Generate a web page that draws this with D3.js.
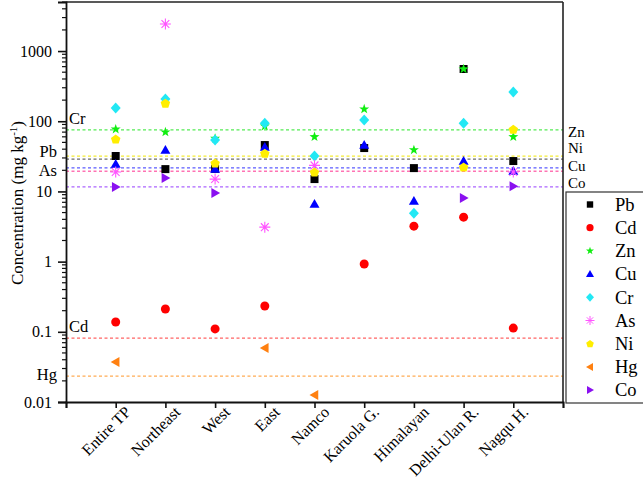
<!DOCTYPE html>
<html>
<head>
<meta charset="utf-8">
<script src="https://cdn.jsdelivr.net/npm/d3@7"></script>
<style>
  body { margin: 0; background: #fff; }
  svg { font-family: "Liberation Serif", "Times New Roman", serif; }
</style>
</head>
<body>
<svg id="chart" width="643" height="480"></svg>
<script>
const regions = ["Entire TP", "Northeast", "West", "East", "Namco", "Karuola G.", "Himalayan", "Delhi-Ulan R.", "Nagqu H."];

// concentrations (mg/kg), null = not reported
const pb = [32, 20.8, 21, 45.8, 15.0, 41.5, 21.5, 555, 27.1];
const cd = [0.138, 0.211, 0.110, 0.233, null, 0.925, 3.2, 4.3, 0.113];
const zn = [77, 70, 57, 85, 60, 149, 39, 555, 60];
const cu = [24.5, 39, 20.8, 43, 6.6, 45.8, 7.3, 27.1, 19.6];
const cr = [154, 207, 54, 94, 32, 104, 4.9, 94, 261];
const as = [18.9, 2430, 15.0, 3.1, 23.5, null, null, null, 18.9];
const ni = [56, 181, 25.4, 35, 18.9, null, null, 22.3, 77];
const hg = [0.037, null, null, 0.059, 0.0126, null, null, null, null];
const co = [11.6, 15.5, 9.5, null, null, null, null, 8.05, 11.9];

// background values (dashed lines)
const refNames = ["Zn", "Ni", "Pb", "Cu", "As", "Co", "Cd", "Hg"];
const refValues = [75.5, 31.9, 28.9, 21.6, 19.4, 11.6, 0.0814, 0.0234];

const yTicks = [0.01, 0.1, 1, 10, 100, 1000];

const series = [
  { name: "Pb", data: pb, color: "#000000", shape: "square" },
  { name: "Cd", data: cd, color: "#ff0000", shape: "circle" },
  { name: "Zn", data: zn, color: "#11ee11", shape: "star" },
  { name: "Cu", data: cu, color: "#0000ff", shape: "triUp" },
  { name: "Cr", data: cr, color: "#22e8f4", shape: "diamond" },
  { name: "As", data: as, color: "#ff55ff", shape: "asterisk" },
  { name: "Ni", data: ni, color: "#ffee00", shape: "pentagon" },
  { name: "Hg", data: hg, color: "#ff8010", shape: "triLeft" },
  { name: "Co", data: co, color: "#8a10f0", shape: "triRight" }
];
const refColors = {
  Zn: "rgba(40,230,40,0.8)", Ni: "rgba(240,230,0,0.8)", Pb: "rgba(70,70,70,0.8)",
  Cu: "rgba(50,50,255,0.8)", As: "rgba(255,80,160,0.8)", Co: "rgba(150,60,255,0.8)",
  Cd: "rgba(255,60,60,0.8)", Hg: "rgba(255,150,40,0.8)"
};

// custom symbols: size is used as a half-extent in px
function poly(ctx, pts) {
  ctx.moveTo(pts[0][0], pts[0][1]);
  for (let i = 1; i < pts.length; i++) ctx.lineTo(pts[i][0], pts[i][1]);
  ctx.closePath();
}
const shapes = {
  square: { draw: (c, r) => poly(c, [[-r * 0.8, -r * 0.8], [r * 0.8, -r * 0.8], [r * 0.8, r * 0.8], [-r * 0.8, r * 0.8]]) },
  circle: { draw: (c, r) => { c.moveTo(r * 0.9, 0); c.arc(0, 0, r * 0.9, 0, 2 * Math.PI); } },
  star: { draw: (c, r) => {
    const pts = [];
    for (let i = 0; i < 10; i++) {
      const a = -Math.PI / 2 + i * Math.PI / 5;
      const rr = i % 2 ? r * 0.42 : r * 1.05;
      pts.push([rr * Math.cos(a), rr * Math.sin(a)]);
    }
    poly(c, pts);
  } },
  triUp: { draw: (c, r) => poly(c, [[0, -r], [r, r * 0.75], [-r, r * 0.75]]) },
  triLeft: { draw: (c, r) => poly(c, [[-r, 0], [r * 0.75, -r], [r * 0.75, r]]) },
  triRight: { draw: (c, r) => poly(c, [[r, 0], [-r * 0.75, -r], [-r * 0.75, r]]) },
  diamond: { draw: (c, r) => poly(c, [[0, -r * 1.1], [r, 0], [0, r * 1.1], [-r, 0]]) },
  pentagon: { draw: (c, r) => {
    const pts = [];
    for (let i = 0; i < 5; i++) {
      const a = -Math.PI / 2 + i * 2 * Math.PI / 5;
      pts.push([r * Math.cos(a), r * Math.sin(a) + r * 0.1]);
    }
    poly(c, pts);
  } },
  asterisk: { draw: (c, r) => {
    for (let i = 0; i < 4; i++) {
      const a = i * Math.PI / 4;
      c.moveTo(-r * Math.cos(a), -r * Math.sin(a));
      c.lineTo(r * Math.cos(a), r * Math.sin(a));
    }
  } }
};

const svg = d3.select("#chart");
const plotLeft = 66, plotRight = 563, plotTop = 2, plotBottom = 402;

const x = d3.scaleLinear().domain([0, 10]).range([plotLeft, plotRight]);
const y = d3.scaleLog().domain([0.01, 5000]).range([plotBottom, plotTop]);

// Reference lines
refNames.forEach(function (n, i) {
  svg.append("line")
    .attr("x1", plotLeft).attr("x2", plotRight)
    .attr("y1", y(refValues[i])).attr("y2", y(refValues[i]))
    .attr("stroke", refColors[n])
    .attr("stroke-width", 1.3)
    .attr("stroke-dasharray", "3,2.5");
});

// Reference labels
const refLabels = [
  { t: "Cr", v: 75.5, side: "in", dy: -6 },
  { t: "Pb", v: 28.9, side: "out", dy: -2 },
  { t: "As", v: 19.4, side: "out", dy: 5 },
  { t: "Cd", v: 0.0814, side: "in", dy: -6 },
  { t: "Hg", v: 0.0234, side: "out", dy: 4 },
  { t: "Zn", v: 75.5, side: "right", dy: 7 },
  { t: "Ni", v: 31.9, side: "right", dy: -3 },
  { t: "Cu", v: 21.6, side: "right", dy: 3 },
  { t: "Co", v: 11.6, side: "right", dy: 1 }
];
refLabels.forEach(function (d) {
  const xx = d.side === "in" ? plotLeft + 3 : d.side === "out" ? plotLeft - 9 : plotRight + 5;
  svg.append("text")
    .attr("x", xx)
    .attr("y", y(d.v) + d.dy)
    .attr("text-anchor", d.side === "out" ? "end" : "start")
    .style("font-size", d.side === "right" ? "15px" : "16.5px")
    .text(d.t);
});

// Markers
const sym = d3.symbol();
series.forEach(function (s) {
  const pts = s.data.map((v, i) => [i + 1, v]).filter(d => d[1] != null);
  svg.append("g")
    .selectAll("path")
    .data(pts)
    .enter()
    .append("path")
    .attr("transform", d => "translate(" + x(d[0]) + "," + y(d[1]) + ")")
    .attr("d", sym.type(shapes[s.shape]).size(s.shape === "asterisk" ? 5.5 : 5)())
    .attr("fill", s.shape === "asterisk" ? "none" : s.color)
    .attr("stroke", s.shape === "asterisk" ? s.color : "none")
    .attr("stroke-width", 1.1);
});

// Frame
svg.append("line").attr("x1", plotLeft).attr("x2", plotRight).attr("y1", plotTop).attr("y2", plotTop)
  .attr("stroke", "#222").attr("stroke-width", 1.6);
svg.append("line").attr("x1", plotRight).attr("x2", plotRight).attr("y1", plotTop).attr("y2", plotBottom)
  .attr("stroke", "#222").attr("stroke-width", 1.6);

// Y axis
const yAxis = svg.append("g")
  .attr("transform", "translate(" + plotLeft + ",0)")
  .call(d3.axisLeft(y).tickValues(yTicks).tickSize(8).tickFormat(d3.format("~g")));
const minor = [];
for (let e = -2; e <= 3; e++) {
  for (let m = 2; m <= 9; m++) {
    const v = m * Math.pow(10, e);
    if (v <= 5000) minor.push(v);
  }
}
yAxis.selectAll(".minor")
  .data(minor)
  .enter()
  .append("line")
  .attr("class", "minor")
  .attr("x1", -4).attr("x2", 0)
  .attr("y1", d => y(d)).attr("y2", d => y(d))
  .attr("stroke", "#111").attr("stroke-width", 1.2);

// X axis
const xAxis = svg.append("g")
  .attr("transform", "translate(0," + plotBottom + ")")
  .call(d3.axisBottom(x).tickValues(d3.range(0, 11)).tickSize(6).tickFormat(""));

[yAxis, xAxis].forEach(function (g) {
  g.attr("font-family", "Liberation Serif").attr("font-size", 16);
  g.select(".domain").attr("stroke", "#111").attr("stroke-width", 1.8);
  g.selectAll(".tick line").attr("stroke", "#111").attr("stroke-width", 1.6);
  g.selectAll("text").attr("fill", "#000");
});
yAxis.selectAll(".tick text").attr("x", -14);

// X labels
svg.append("g")
  .selectAll("text")
  .data(regions)
  .enter()
  .append("text")
  .attr("transform", (d, i) => "translate(" + (x(i + 1) + 16) + "," + (plotBottom + 11) + ")rotate(-45)")
  .attr("text-anchor", "end")
  .style("font-size", "16px")
  .text(d => d);

// Y title
const title = svg.append("text")
  .attr("transform", "translate(23,203)rotate(-90)")
  .attr("text-anchor", "middle")
  .style("font-size", "17px");
title.append("tspan").text("Concentration (mg kg");
title.append("tspan").attr("dy", -6).style("font-size", "11px").text("-1");
title.append("tspan").attr("dy", 6).text(")");

// Legend
const legend = svg.append("g");
legend.append("rect")
  .attr("x", 566).attr("y", 192)
  .attr("width", 100).attr("height", 211)
  .attr("fill", "#fff").attr("stroke", "#333").attr("stroke-width", 1.2);
series.forEach(function (s, i) {
  const cy = 204.5 + i * 23.2;
  legend.append("path")
    .attr("transform", "translate(590," + cy + ")")
    .attr("d", sym.type(shapes[s.shape]).size(s.shape === "asterisk" ? 4.5 : 4)())
    .attr("fill", s.shape === "asterisk" ? "none" : s.color)
    .attr("stroke", s.shape === "asterisk" ? s.color : "none")
    .attr("stroke-width", 1);
  legend.append("text")
    .attr("x", 615).attr("y", cy + 6.3)
    .style("font-size", "18.5px")
    .text(s.name);
});
</script>
</body>
</html>
